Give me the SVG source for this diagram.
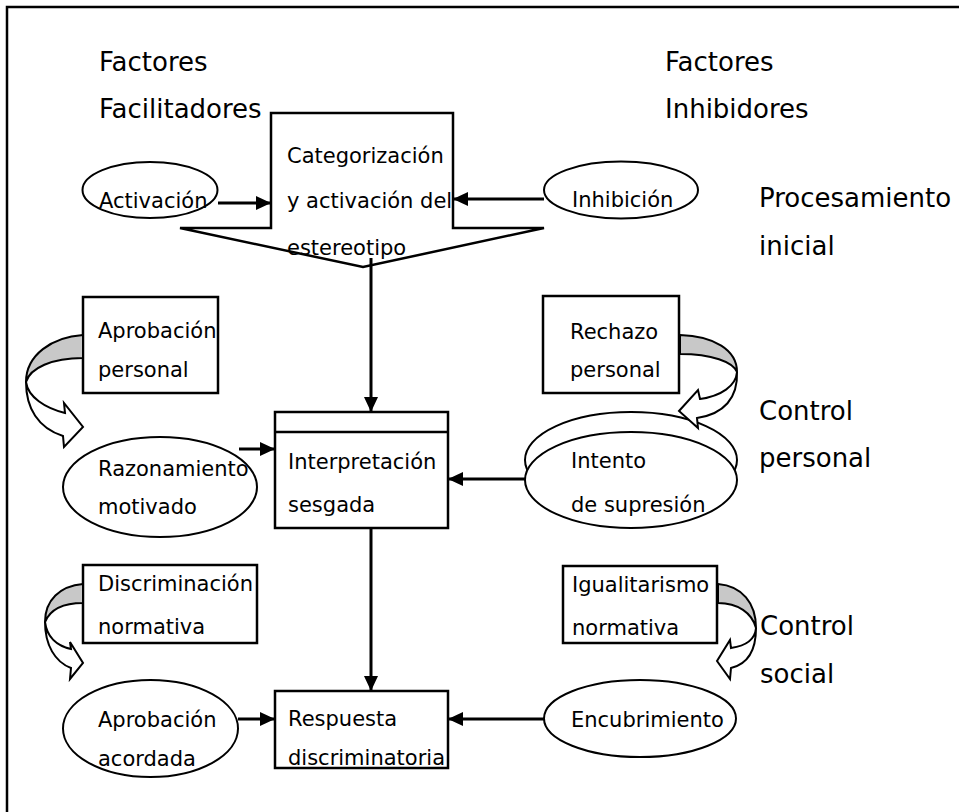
<svg xmlns="http://www.w3.org/2000/svg" width="959" height="812" viewBox="0 0 959 812">
<style>
text{font-family:"DejaVu Sans","Liberation Sans",sans-serif;fill:#000}
.big{font-size:26px}
.sm{font-size:21px}
.box{fill:#fff;stroke:#000;stroke-width:2.5}
.ell{fill:#fff;stroke:#000;stroke-width:2}
.con{stroke:#000;stroke-width:3;fill:none;marker-end:url(#ah)}
.gray{fill:#c8c8c8;stroke:#000;stroke-width:2;stroke-linejoin:round}
.white{fill:#fff;stroke:#000;stroke-width:2;stroke-linejoin:miter}
</style>
<defs>
<marker id="ah" markerUnits="userSpaceOnUse" markerWidth="17" markerHeight="15" refX="15" refY="7" orient="auto">
<path d="M0,0 L15,7 L0,14 Z" fill="#000"/>
</marker>
</defs>
<rect width="959" height="812" fill="#fff"/>
<path d="M7,812 L7,7 L959,7" fill="none" stroke="#000" stroke-width="2.5"/>

<g id="labels">
<text class="big" x="99" y="71">Factores</text>
<text class="big" x="99" y="118">Facilitadores</text>
<text class="big" x="665" y="71">Factores</text>
<text class="big" x="665" y="118">Inhibidores</text>
<text class="big" x="759" y="207">Procesamiento</text>
<text class="big" x="759" y="255">inicial</text>
<text class="big" x="759" y="420">Control</text>
<text class="big" x="759" y="467">personal</text>
<text class="big" x="760" y="635">Control</text>
<text class="big" x="760" y="683">social</text>
</g>

<g id="categorizacion">
<polygon class="box" points="271,113 453,113 453,228 544,228 363,267 180,228 271,228"/>
<text class="sm" x="287" y="163">Categorización</text>
<text class="sm" x="287" y="208">y activación del</text>
<text class="sm" x="287" y="255">estereotipo</text>
</g>

<g id="activacion">
<ellipse class="ell" cx="150" cy="190" rx="67.5" ry="28"/>
<text class="sm" x="99" y="208">Activación</text>
</g>

<g id="inhibicion">
<ellipse class="ell" cx="621" cy="190" rx="77" ry="28.5"/>
<text class="sm" x="572" y="207">Inhibición</text>
</g>

<g id="aprobacion-personal">
<rect class="box" x="83" y="297" width="135" height="96"/>
<text class="sm" x="98" y="338">Aprobación</text>
<text class="sm" x="98" y="377">personal</text>
</g>

<g id="rechazo-personal">
<rect class="box" x="543" y="296" width="136" height="97"/>
<text class="sm" x="570" y="339">Rechazo</text>
<text class="sm" x="570" y="377">personal</text>
</g>

<g id="razonamiento">
<ellipse class="ell" cx="160" cy="487" rx="97" ry="50"/>
<text class="sm" x="98" y="476">Razonamiento</text>
<text class="sm" x="98" y="514">motivado</text>
</g>

<g id="interpretacion">
<rect class="box" x="275" y="412" width="173" height="116"/>
<line x1="275" y1="432" x2="448" y2="432" stroke="#000" stroke-width="2.5"/>
<text class="sm" x="288" y="469">Interpretación</text>
<text class="sm" x="288" y="512">sesgada</text>
</g>

<g id="intento">
<ellipse class="ell" cx="631" cy="460" rx="106" ry="48"/>
<ellipse class="ell" cx="631" cy="480" rx="106" ry="48"/>
<text class="sm" x="571" y="468">Intento</text>
<text class="sm" x="571" y="512">de supresión</text>
</g>

<g id="discriminacion-normativa">
<rect class="box" x="83" y="565" width="174" height="78"/>
<text class="sm" x="98" y="591">Discriminación</text>
<text class="sm" x="98" y="634">normativa</text>
</g>

<g id="igualitarismo-normativa">
<rect class="box" x="563" y="566" width="154" height="77"/>
<text class="sm" x="572" y="592">Igualitarismo</text>
<text class="sm" x="572" y="635">normativa</text>
</g>

<g id="aprobacion-acordada">
<ellipse class="ell" cx="150.5" cy="728.5" rx="87.5" ry="48.5"/>
<text class="sm" x="98" y="727">Aprobación</text>
<text class="sm" x="98" y="766">acordada</text>
</g>

<g id="respuesta">
<rect class="box" x="275" y="691" width="173" height="77"/>
<text class="sm" x="288" y="726">Respuesta</text>
<text class="sm" x="288" y="765">discriminatoria</text>
</g>

<g id="encubrimiento">
<ellipse class="ell" cx="640" cy="718.5" rx="96" ry="38.5"/>
<text class="sm" x="571" y="727">Encubrimiento</text>
</g>

<g id="curved-arrows">
<path class="gray" d="M83,335 C52,337 26,355 26,382 C30,368 52,358 83,358 Z"/>
<path class="white" d="M26,382 C28,397 45,408 65,413 L64,403 L83,427 L64,447 L63,436 C38,428 26,408 26,382 Z"/>
<path class="gray" d="M680,335 C714,336 737,350 737,372 C733,362 712,354 680,354 Z"/>
<path class="white" d="M737,372 C736,386 721,396 700,399 L698,390 L679,411 L698,428 L697,418 C724,414 738,398 737,372 Z"/>
<path class="gray" d="M83,584 C60,586 45,600 45,622 C50,610 62,603 83,603 Z"/>
<path class="white" d="M45,622 C47,637 57,646 71,649 L70,642 L83,663 L70,679 L71,668 C55,662 45,645 45,622 Z"/>
<path class="gray" d="M718,584 C742,586 756,603 756,628 C752,613 738,603 718,603 Z"/>
<path class="white" d="M756,628 C755,640 745,646 731,648 L730,640 L717,661 L730,679 L731,668 C748,664 756,650 756,628 Z"/>
</g>

<g id="connectors">
<path class="con" d="M218,203 L271,203"/>
<path class="con" d="M544,199 L453,199"/>
<path class="con" d="M371,258 L371,412"/>
<path class="con" d="M239,449 L275,449"/>
<path class="con" d="M525,479 L448,479"/>
<path class="con" d="M371,528 L371,691"/>
<path class="con" d="M238,719 L275,719"/>
<path class="con" d="M544,719 L448,719"/>
</g>
</svg>
